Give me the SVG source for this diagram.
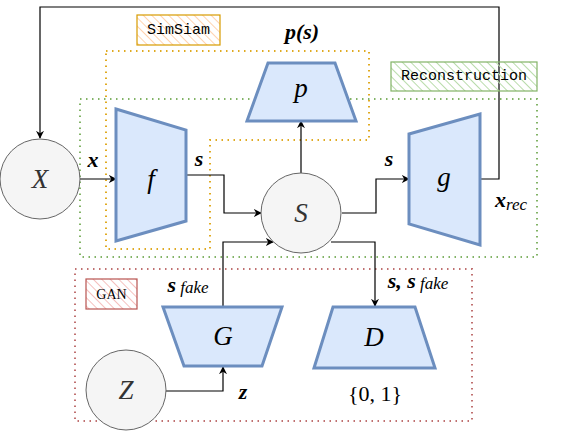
<svg xmlns="http://www.w3.org/2000/svg" width="567" height="431" viewBox="0 0 567 431">
<defs>
<style>
.trap{fill:#dae8fc;stroke:#6c8ebf;stroke-width:3;stroke-linejoin:miter}
.circ{fill:#f5f5f5;stroke:#666;stroke-width:1}
.big{font-family:"Liberation Serif",serif;font-style:italic;font-size:27px;fill:#000;text-anchor:middle;dominant-baseline:central}
.bigc{font-family:"Liberation Serif",serif;font-style:italic;font-size:27px;fill:#333;text-anchor:middle;dominant-baseline:central}
.lab{font-family:"Liberation Serif",serif;font-style:italic;font-weight:bold;font-size:22px;fill:#000;text-anchor:middle;dominant-baseline:central}
.sub{font-size:17px;font-weight:normal}
.mono{font-family:"Liberation Mono",monospace;font-size:15px;fill:#000;text-anchor:middle;dominant-baseline:central}
.conn{fill:none;stroke:#000;stroke-width:1.2}
.dot{fill:none;stroke-width:2;stroke-dasharray:1.5 4.5}
</style>
<marker id="arr" viewBox="0 0 10 10" refX="9" refY="5" markerWidth="8" markerHeight="8" orient="auto" markerUnits="userSpaceOnUse">
<path d="M0,0 L10,5 L0,10 L3,5 z" fill="#000"/>
</marker>
<pattern id="hO" patternUnits="userSpaceOnUse" width="6" height="6" patternTransform="rotate(-45)"><rect width="6" height="6" fill="#fff"/><line x1="0" y1="0" x2="0" y2="6" stroke="#ffd3b0" stroke-width="2"/></pattern>
<pattern id="hG" patternUnits="userSpaceOnUse" width="6" height="6" patternTransform="rotate(-45)"><line x1="0" y1="0" x2="0" y2="6" stroke="#b9dcab" stroke-width="2"/></pattern>
<pattern id="hR" patternUnits="userSpaceOnUse" width="6" height="6" patternTransform="rotate(-45)"><rect width="6" height="6" fill="#fff"/><line x1="0" y1="0" x2="0" y2="6" stroke="#f5c0be" stroke-width="2"/></pattern>
</defs>

<g id="groups">
<path class="dot" stroke="#e0aa20" d="M106,51 H369 V140 H210 V249 H106 Z"/>
<rect class="dot" stroke="#82b366" x="80" y="99" width="457" height="158"/>
<rect class="dot" stroke="#c07070" x="75" y="269" width="397" height="152"/>
</g>

<g id="connectors">
<path class="conn" d="M480,179 H499 V7 H40 V138" marker-end="url(#arr)"/>
<path class="conn" d="M80,179 H116" marker-end="url(#arr)"/>
<path class="conn" d="M186,175 H224 V213 H261" marker-end="url(#arr)"/>
<path class="conn" d="M301,173 V121" marker-end="url(#arr)"/>
<path class="conn" d="M342,213 H376 V179 H409" marker-end="url(#arr)"/>
<path class="conn" stroke="#555" d="M223,307 V242 H273" marker-end="url(#arr)"/>
<path class="conn" stroke="#555" d="M331,242 H375 V306" marker-end="url(#arr)"/>
<path class="conn" d="M166,391 H223 V367" marker-end="url(#arr)"/>
</g>

<g id="label-simsiam">
<rect x="137" y="15" width="83" height="30" fill="url(#hO)" stroke="#d79b00" stroke-width="1.2"/>
<text class="mono" x="178.5" y="30">SimSiam</text>
</g>
<g id="label-reconstruction">
<rect x="391" y="62" width="146" height="29" fill="url(#hG)" stroke="#82b366" stroke-width="1.2"/>
<text class="mono" x="464" y="76.5">Reconstruction</text>
</g>
<g id="label-gan">
<rect x="86" y="279" width="51" height="30" fill="url(#hR)" stroke="#b85450" stroke-width="1.2"/>
<text x="111.5" y="294" font-family="Liberation Serif,serif" font-size="14" text-anchor="middle" dominant-baseline="central">GAN</text>
</g>

<g id="node-X"><circle class="circ" cx="40" cy="179" r="40"/><text class="bigc" x="40" y="179">X</text></g>
<g id="node-f"><polygon class="trap" points="116,109 186,130 186,221 116,241"/><text class="big" x="151" y="179">f</text></g>
<g id="node-p"><polygon class="trap" points="268,63 335,63 356,121 247,121"/><text class="big" x="301" y="88">p</text></g>
<g id="node-S"><circle class="circ" cx="301" cy="213" r="40"/><text class="bigc" x="301" y="213">S</text></g>
<g id="node-g"><polygon class="trap" points="409,134 480,114 480,245 409,224"/><text class="big" x="444" y="177">g</text></g>
<g id="node-G"><polygon class="trap" points="163,307 282,307 262,366 184,366"/><text class="big" x="223" y="336">G</text></g>
<g id="node-D"><polygon class="trap" points="333,307 415,307 435,368 314,368"/><text class="big" x="374" y="337">D</text></g>
<g id="node-Z"><circle class="circ" cx="126" cy="390" r="40"/><text class="bigc" x="126" y="390">Z</text></g>

<g id="labels">
<text class="lab" x="93" y="159">x</text>
<text class="lab" x="199" y="158">s</text>
<text class="lab" x="302" y="31">p(s)</text>
<text class="lab" x="389" y="158">s</text>
<text class="lab" x="511" y="199">x<tspan class="sub" dy="5">rec</tspan></text>
<text class="lab" x="188" y="284">s<tspan class="sub" dy="3"> fake</tspan></text>
<text class="lab" x="418" y="280">s, s<tspan class="sub" dy="3"> fake</tspan></text>
<text class="lab" x="243" y="391" font-weight="normal">z</text>
<text x="375" y="393" font-family="Liberation Serif,serif" font-size="22" text-anchor="middle" dominant-baseline="central">{0, 1}</text>
</g>
</svg>
